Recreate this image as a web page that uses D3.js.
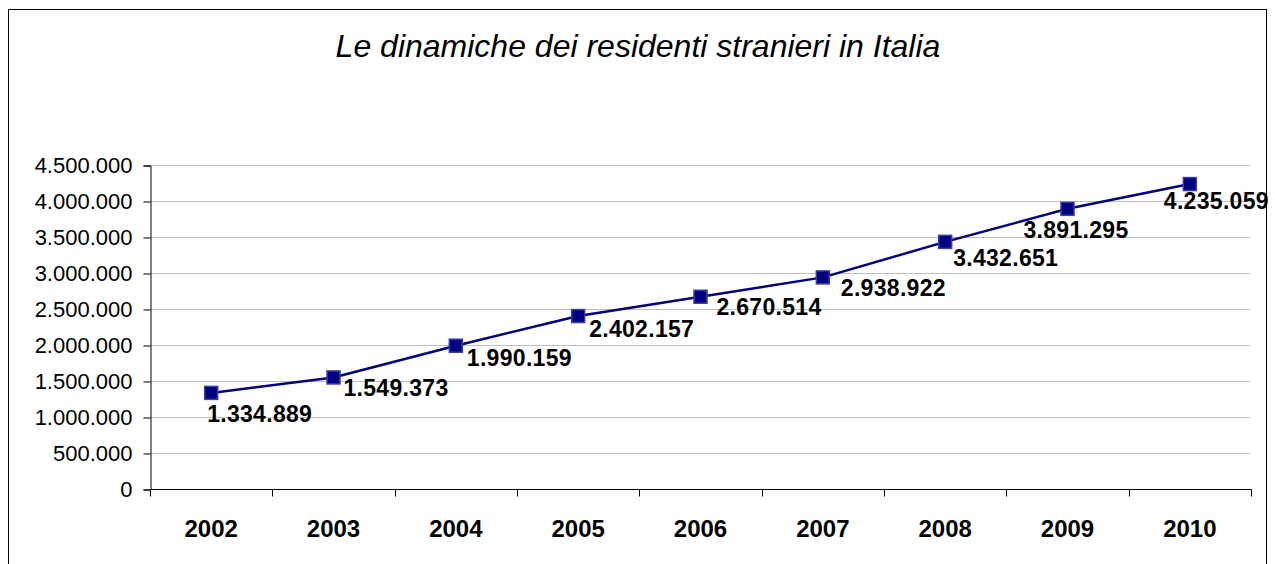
<!DOCTYPE html>
<html>
<head>
<meta charset="utf-8">
<script src="https://cdn.jsdelivr.net/npm/d3@7"></script>
<style>
  body { margin: 0; background: #fff; }
  svg { display: block; font-family: Arial, "Liberation Sans", sans-serif; }
</style>
</head>
<body>
<div id="plot"></div>
<script>
// data
const years = ["2002", "2003", "2004", "2005", "2006", "2007", "2008", "2009", "2010"];
const residents = [1334889, 1549373, 1990159, 2402157, 2670514, 2938922, 3432651, 3891295, 4235059];
const yTicks = [0, 500000, 1000000, 1500000, 2000000, 2500000, 3000000, 3500000, 4000000, 4500000];

// label nudges (dx, dy from the marker), copied from the picture layout
const labelShift = [[-4, 29], [10, 19], [11, 20], [11, 21], [16, 18], [18, 19], [8, 24], [-44, 29], [-26, 25]];

const W = 1275, H = 564;
const plot = {left: 150, right: 1251, top: 165, bottom: 489};

const it = d3.formatLocale({decimal: ",", thousands: ".", grouping: [3], currency: ["", ""]});
const fmt = it.format(",d");

const svg = d3.select("#plot").append("svg")
    .attr("width", W)
    .attr("height", H);

// outer frame
svg.append("rect")
    .attr("x", 8.5).attr("y", 9.5)
    .attr("width", 1258).attr("height", 600)
    .attr("fill", "none")
    .attr("stroke", "#000")
    .attr("stroke-width", 1);

// title
svg.append("text")
    .attr("x", 638)
    .attr("y", 57)
    .attr("text-anchor", "middle")
    .style("font-size", "32px")
    .style("font-style", "italic")
    .text("Le dinamiche dei residenti stranieri in Italia");

const x = d3.scaleBand()
    .domain(years)
    .range([plot.left, plot.right])
    .padding(0);

const y = d3.scaleLinear()
    .domain([0, 4500000])
    .range([plot.bottom, plot.top]);

// gridlines
svg.append("g")
    .selectAll("line")
    .data(yTicks.filter(d => d > 0))
    .join("line")
    .attr("x1", plot.left).attr("x2", plot.right - 1)
    .attr("y1", d => Math.round(y(d)) + 0.5)
    .attr("y2", d => Math.round(y(d)) + 0.5)
    .attr("stroke", "#c0c0c0")
    .attr("stroke-width", 1);

// y axis
const yAxis = svg.append("g")
    .attr("transform", `translate(${plot.left + 0.5},0.5)`)
    .call(d3.axisLeft(y).tickValues(yTicks).tickFormat(fmt).tickSize(7).tickPadding(11));
yAxis.select(".domain").attr("stroke", "#000");
yAxis.selectAll(".tick line").attr("stroke", "#000");
yAxis.selectAll(".tick text")
    .attr("fill", "#000")
    .style("font-size", "22px")
    .style("font-family", "Arial, 'Liberation Sans', sans-serif");

// x axis: labels centred in bands, ticks on band edges
const xAxis = svg.append("g")
    .attr("transform", `translate(0,${plot.bottom + 0.5})`)
    .call(d3.axisBottom(x).tickSize(0).tickPadding(0));
xAxis.select(".domain").remove();
xAxis.selectAll(".tick text")
    .attr("y", 0)
    .attr("dy", null)
    .attr("transform", "translate(0,47)")
    .attr("fill", "#000")
    .style("font-size", "24px")
    .style("font-weight", "bold")
    .style("font-family", "Arial, 'Liberation Sans', sans-serif");

xAxis.append("line")
    .attr("x1", plot.left).attr("x2", plot.right + 0.5)
    .attr("stroke", "#000");
xAxis.selectAll(".edge")
    .data(years.map(d => x(d)).concat([plot.right]))
    .join("line")
    .attr("class", "edge")
    .attr("x1", d => Math.round(d) + 0.5)
    .attr("x2", d => Math.round(d) + 0.5)
    .attr("y1", 0).attr("y2", 7)
    .attr("stroke", "#000");

// series
const pts = years.map((yr, i) => ({year: yr, value: residents[i], shift: labelShift[i]}));
const cx = d => x(d.year) + x.bandwidth() / 2;

svg.append("path")
    .datum(pts)
    .attr("fill", "none")
    .attr("stroke", "#000080")
    .attr("stroke-width", 2.5)
    .attr("d", d3.line().x(cx).y(d => y(d.value)));

svg.append("g")
    .selectAll("rect")
    .data(pts)
    .join("rect")
    .attr("x", d => cx(d) - 6.5)
    .attr("y", d => y(d.value) - 6.5)
    .attr("width", 13).attr("height", 13)
    .attr("fill", "#000080")
    .attr("stroke", "#3c3ca8")
    .attr("stroke-width", 1.5);

svg.append("g")
    .selectAll("text")
    .data(pts)
    .join("text")
    .attr("x", d => cx(d) + d.shift[0])
    .attr("y", d => y(d.value) + d.shift[1])
    .style("font-size", "23px")
    .style("font-weight", "bold")
    .style("letter-spacing", "0.3px")
    .attr("fill", "#000")
    .text(d => fmt(d.value));
</script>
</body>
</html>
